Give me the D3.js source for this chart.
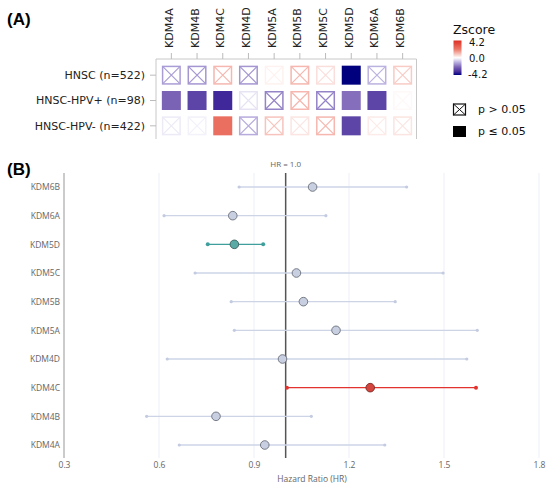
<!DOCTYPE html>
<html>
<head>
<meta charset="utf-8">
<script src="https://cdn.jsdelivr.net/npm/d3@7"></script>
<style>
  body { margin: 0; background: #fff; }
  svg { display: block; }
</style>
</head>
<body>
<div id="chart"></div>
<script>
// ---- data ----
const genes = ['KDM4A', 'KDM4B', 'KDM4C', 'KDM4D', 'KDM5A', 'KDM5B', 'KDM5C', 'KDM5D', 'KDM6A', 'KDM6B'];
const cohorts = ['HNSC (n=522)', 'HNSC-HPV+ (n=98)', 'HNSC-HPV- (n=422)'];

// z scores per cohort (same order as genes)
const zHNSC = [-1.4, -1.5, 1.1, -1.5, 0.2, 1.1, 0.5, -4.2, -1.1, 0.8];
const zHPVpos = [-2.3, -2.9, -3.5, -0.4, -1.8, 1.1, -1.8, -2.1, -2.9, 0.1];
const zHPVneg = [-0.3, -0.2, 2.3, -1.2, 0.9, 0.4, 1.1, -2.9, 0.3, 0.4];

// 1 = p <= 0.05
const sigHNSC = [0, 0, 0, 0, 0, 0, 0, 1, 0, 0];
const sigHPVpos = [1, 1, 1, 0, 0, 0, 0, 1, 1, 0];
const sigHPVneg = [0, 0, 1, 0, 0, 0, 0, 1, 0, 0];

// forest plot (top to bottom)
const forestGenes = ['KDM6B', 'KDM6A', 'KDM5D', 'KDM5C', 'KDM5B', 'KDM5A', 'KDM4D', 'KDM4C', 'KDM4B', 'KDM4A'];
const hr = [1.085, 0.833, 0.838, 1.034, 1.056, 1.159, 0.990, 1.267, 0.780, 0.934];
const hrLow = [0.853, 0.616, 0.754, 0.714, 0.828, 0.838, 0.626, 1.004, 0.561, 0.664];
const hrHigh = [1.382, 1.127, 0.929, 1.497, 1.346, 1.605, 1.572, 1.601, 1.081, 1.313];
const hrGroup = ['ns', 'ns', 'low', 'ns', 'ns', 'ns', 'ns', 'high', 'ns', 'ns'];
const hrTicks = [0.3, 0.6, 0.9, 1.2, 1.5, 1.8];

const W = 550, H = 489;
const svg = d3.select('#chart').append('svg')
  .attr('width', W).attr('height', H)
  .attr('viewBox', `0 0 ${W} ${H}`);

// ---------------- (A) heatmap ----------------
const heatFont = 'DejaVu Sans, sans-serif';
const color = d3.scaleLinear()
  .domain([-4.2, -3.5, -2.3, -1.4, 0, 2.1, 4.2])
  .range(['#00007f', '#40289a', '#7a62b4', '#aa9dd6', '#ffffff', '#ec7666', '#dc3024'])
  .clamp(true);

svg.append('text')
  .attr('x', 7).attr('y', 25)
  .attr('font-family', 'Liberation Sans, Arial, sans-serif')
  .attr('font-weight', 'bold').attr('font-size', 17)
  .text('(A)');

const xA = d3.scaleBand().domain(genes).range([158.5, 415.5]);
const yA = d3.scaleBand().domain(cohorts).range([62.5, 138.5]);
const cell = 19;

const frame = { x0: 156, x1: 416.5, y0: 59, y1: 139 };
svg.append('path')
  .attr('d', `M${frame.x0},${frame.y1}V${frame.y0}H${frame.x1}V${frame.y1}`)
  .attr('fill', 'none').attr('stroke', '#c8c8c8').attr('stroke-width', 1);

const gA = svg.append('g');

// column ticks and labels
genes.forEach(g => {
  const cx = xA(g) + xA.bandwidth() / 2;
  gA.append('line')
    .attr('x1', cx).attr('x2', cx).attr('y1', frame.y0).attr('y2', frame.y0 - 6)
    .attr('stroke', '#bbb');
  gA.append('text')
    .attr('transform', `translate(${cx + 1.5},48) rotate(-90)`)
    .attr('font-family', heatFont).attr('font-size', 11).attr('fill', '#222')
    .text(g);
});

// row ticks and labels
cohorts.forEach(c => {
  const cy = yA(c) + yA.bandwidth() / 2;
  gA.append('line')
    .attr('x1', frame.x0 - 6).attr('x2', frame.x0).attr('y1', cy).attr('y2', cy)
    .attr('stroke', '#bbb');
  gA.append('text')
    .attr('x', 145).attr('y', cy).attr('dy', '0.35em')
    .attr('text-anchor', 'end')
    .attr('font-family', heatFont).attr('font-size', 11).attr('fill', '#222')
    .text(c);
});

const heatRows = [
  { cohort: cohorts[0], z: zHNSC, sig: sigHNSC },
  { cohort: cohorts[1], z: zHPVpos, sig: sigHPVpos },
  { cohort: cohorts[2], z: zHPVneg, sig: sigHPVneg },
];
const cells = [];
heatRows.forEach(r => genes.forEach((g, i) => cells.push({ cohort: r.cohort, gene: g, z: r.z[i], sig: r.sig[i] })));

const cellG = gA.selectAll('g.cell').data(cells).enter().append('g')
  .attr('class', 'cell')
  .attr('transform', d => {
    const cx = xA(d.gene) + xA.bandwidth() / 2;
    const cy = yA(d.cohort) + yA.bandwidth() / 2;
    return `translate(${cx - cell / 2},${cy - cell / 2})`;
  });

cellG.append('rect')
  .attr('x', d => d.sig ? 0 : 0.75).attr('y', d => d.sig ? 0 : 0.75)
  .attr('width', d => d.sig ? cell : cell - 1.5)
  .attr('height', d => d.sig ? cell : cell - 1.5)
  .attr('fill', d => d.sig ? color(d.z) : '#fff')
  .attr('stroke', d => d.sig ? 'none' : color(d.z))
  .attr('stroke-width', 1.5);

cellG.filter(d => !d.sig).append('path')
  .attr('d', `M1,1L${cell - 1},${cell - 1}M${cell - 1},1L1,${cell - 1}`)
  .attr('stroke', d => color(d.z)).attr('stroke-width', 1.2).attr('fill', 'none');

// legend: colour bar
const lg = svg.append('g');
lg.append('text')
  .attr('x', 453).attr('y', 33.5)
  .attr('font-family', heatFont).attr('font-size', 12.5).attr('fill', '#111')
  .text('Zscore');

const grad = svg.append('defs').append('linearGradient')
  .attr('id', 'zgrad').attr('x1', 0).attr('x2', 0).attr('y1', 0).attr('y2', 1);
d3.range(0, 1.0001, 0.05).forEach(t => {
  grad.append('stop').attr('offset', t).attr('stop-color', color(4.2 - t * 8.4));
});
const barTop = 40.5, barBottom = 75;
lg.append('rect')
  .attr('x', 453.5).attr('y', barTop).attr('width', 8).attr('height', barBottom - barTop)
  .attr('fill', 'url(#zgrad)');
const zbar = d3.scaleLinear().domain([4.2, -4.2]).range([barTop + 2, barBottom - 1]);
[4.2, 0, -4.2].forEach(v => {
  lg.append('text')
    .attr('x', v < 0 ? 468 : 469).attr('y', zbar(v)).attr('dy', '0.35em')
    .attr('font-family', heatFont).attr('font-size', 10).attr('fill', '#111')
    .text(v.toFixed(1));
});

// legend: p-value symbols
const sym = lg.append('g').attr('transform', 'translate(453,103.5)');
sym.append('rect').attr('x', 0.5).attr('y', 0.5).attr('width', 12).attr('height', 11)
  .attr('fill', '#fff').attr('stroke', '#111').attr('stroke-width', 1.2);
sym.append('path').attr('d', 'M0.5,0.5L12.5,11.5M12.5,0.5L0.5,11.5')
  .attr('stroke', '#111').attr('stroke-width', 1);
lg.append('text').attr('x', 478).attr('y', 109.5).attr('dy', '0.35em')
  .attr('font-family', heatFont).attr('font-size', 11).attr('fill', '#111')
  .text('p > 0.05');
lg.append('rect').attr('x', 453).attr('y', 126).attr('width', 13).attr('height', 11)
  .attr('fill', '#000');
lg.append('text').attr('x', 478).attr('y', 131.5).attr('dy', '0.35em')
  .attr('font-family', heatFont).attr('font-size', 11).attr('fill', '#111')
  .text('p \u2264 0.05');

// ---------------- (B) forest plot ----------------
const forestFont = 'Open Sans, Noto Sans, sans-serif';
svg.append('text')
  .attr('x', 7).attr('y', 175)
  .attr('font-family', 'Liberation Sans, Arial, sans-serif')
  .attr('font-weight', 'bold').attr('font-size', 17)
  .text('(B)');

const xB = d3.scaleLinear().domain([0.3, 1.8]).range([64, 539]);
const yB = d3.scalePoint().domain(forestGenes).range([187, 445]);
const plotTop = 173, plotBottom = 458;

const gB = svg.append('g');

// grid
gB.selectAll('line.grid').data(hrTicks.slice(1)).enter().append('line')
  .attr('class', 'grid')
  .attr('x1', d => xB(d)).attr('x2', d => xB(d))
  .attr('y1', plotTop).attr('y2', plotBottom)
  .attr('stroke', '#eceff5').attr('stroke-width', 1);

// x axis tick labels
const xAxis = d3.axisBottom(xB).tickValues(hrTicks).tickFormat(d3.format('.1f')).tickSize(0).tickPadding(4);
const xg = gB.append('g').attr('transform', `translate(0,${plotBottom})`).call(xAxis);
xg.select('.domain').remove();
xg.selectAll('text').attr('font-family', forestFont).attr('font-size', 8.5).attr('fill', '#666');

gB.append('text')
  .attr('x', 312).attr('y', 482)
  .attr('text-anchor', 'middle')
  .attr('font-family', forestFont).attr('font-size', 8.5).attr('fill', '#666')
  .text('Hazard Ratio (HR)');

// y axis
const yAxis = d3.axisLeft(yB).tickSize(0).tickPadding(4);
const yg = gB.append('g').attr('transform', `translate(${xB(0.3)},0)`).call(yAxis);
yg.select('.domain').remove();
yg.selectAll('text').attr('font-family', forestFont).attr('font-size', 8.5).attr('fill', '#666');
gB.append('line')
  .attr('x1', xB(0.3)).attr('x2', xB(0.3)).attr('y1', plotTop).attr('y2', plotBottom)
  .attr('stroke', '#a8a8a8').attr('stroke-width', 1.2);

// reference line HR = 1
gB.append('line')
  .attr('x1', xB(1)).attr('x2', xB(1)).attr('y1', plotTop).attr('y2', plotBottom)
  .attr('stroke', '#555').attr('stroke-width', 1.5);
gB.append('text')
  .attr('x', xB(1)).attr('y', 164).attr('dy', '0.35em')
  .attr('text-anchor', 'middle')
  .attr('font-family', forestFont).attr('font-size', 8).attr('fill', '#666')
  .text('HR = 1.0');

const groupStyle = {
  ns: { line: '#cdd4e6', end: '#c3cbe0', fill: '#c7cfe1', stroke: '#6b6f7a' },
  low: { line: '#3f9f9c', end: '#3f9f9c', fill: '#5aaaa6', stroke: '#3d5f5e' },
  high: { line: '#e3332f', end: '#e3332f', fill: '#d4453d', stroke: '#7a2a26' },
};

const forestRows = forestGenes.map((g, i) => ({ gene: g, hr: hr[i], lo: hrLow[i], hi: hrHigh[i], group: hrGroup[i] }));

const fr = gB.selectAll('g.row').data(forestRows).enter().append('g').attr('class', 'row');
fr.append('line')
  .attr('x1', d => xB(d.lo)).attr('x2', d => xB(d.hi))
  .attr('y1', d => yB(d.gene)).attr('y2', d => yB(d.gene))
  .attr('stroke', d => groupStyle[d.group].line).attr('stroke-width', 1.4);
fr.selectAll('circle.end').data(d => [{ v: d.lo, d }, { v: d.hi, d }]).enter().append('circle')
  .attr('class', 'end')
  .attr('cx', e => xB(e.v)).attr('cy', e => yB(e.d.gene))
  .attr('r', e => e.d.group === 'ns' ? 1.6 : 2)
  .attr('fill', e => groupStyle[e.d.group].end);
fr.append('circle')
  .attr('cx', d => xB(d.hr)).attr('cy', d => yB(d.gene))
  .attr('r', 4.3)
  .attr('fill', d => groupStyle[d.group].fill)
  .attr('stroke', d => groupStyle[d.group].stroke).attr('stroke-width', 0.9);
</script>
</body>
</html>
